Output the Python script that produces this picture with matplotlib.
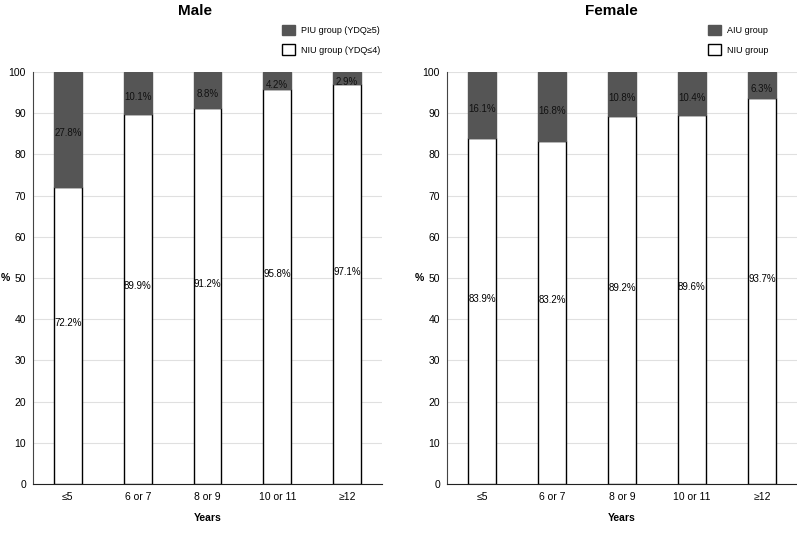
import matplotlib
matplotlib.use("Agg")
import matplotlib.pyplot as plt
from matplotlib.patches import Patch

plt.rcParams["font.family"] = ["Liberation Sans", "DejaVu Sans"]

categories = ["≤5", "6 or 7", "8 or 9", "10 or 11", "≥12"]
male_niu = [72.2, 89.9, 91.2, 95.8, 97.1]
male_piu = [27.8, 10.1, 8.8, 4.2, 2.9]
female_niu = [83.9, 83.2, 89.2, 89.6, 93.7]
female_aiu = [16.1, 16.8, 10.8, 10.4, 6.3]

DARK = "#555555"
W, H = 797, 550

fig = plt.figure(figsize=(W / 100, H / 100), dpi=100)
ax_m = fig.add_axes([33 / W, 1 - 484 / H, 349 / W, 412 / H])
ax_f = fig.add_axes([447 / W, 1 - 484 / H, 350 / W, 412 / H])


def draw_panel(ax, title, title_x, leg_x, low, high, high_label, low_label):
    x = range(len(categories))
    ax.bar(x, low, width=0.4, color="white", edgecolor="black", linewidth=1.0, zorder=3)
    ax.bar(x, high, bottom=low, width=0.4, color=DARK, edgecolor=DARK, linewidth=1.0, zorder=3)
    for i in x:
        # labels sit a little above the middle of the white part, a little below in the dark part
        ax.text(i, low[i] / 2 + 3, f"{low[i]:.1f}%", ha="center", va="center",
                fontsize=7, zorder=4)
        ax.text(i, low[i] + high[i] / 2 - 1, f"{high[i]:.1f}%", ha="center", va="center",
                fontsize=7, color="#111111", zorder=4)
    ax.set_xlim(-0.5, len(categories) - 0.5)
    ax.set_ylim(0, 100)
    ax.set_yticks(range(0, 101, 10))
    ax.set_xticks(list(x))
    ax.set_xticklabels(categories)
    ax.tick_params(axis="x", length=0, labelsize=7.5, pad=6)
    ax.tick_params(axis="y", length=0, labelsize=7.5, pad=5)
    ax.yaxis.grid(True, color="#e0e0e0", linewidth=0.8, zorder=0)
    ax.set_axisbelow(True)
    for s in ("top", "right"):
        ax.spines[s].set_visible(False)
    ax.spines["left"].set_color("#444444")
    ax.spines["bottom"].set_color("#222222")
    ax.set_xlabel("Years", fontsize=7.5, fontweight="bold", labelpad=8)
    ax.set_ylabel("%", fontsize=7.5, fontweight="bold", rotation=0, va="center", ha="center")
    ax.yaxis.set_label_coords(-0.08, 0.5)
    fig.text(title_x / W, 1 - 11 / H, title, fontsize=11, fontweight="bold",
             ha="center", va="center")
    handles = [Patch(facecolor=DARK, edgecolor=DARK, label=high_label),
               Patch(facecolor="white", edgecolor="black", label=low_label)]
    fig.legend(handles=handles, loc="upper left", bbox_to_anchor=(leg_x / W, 1 - 25 / H),
               frameon=False, fontsize=6.5, handlelength=1.4, handleheight=1.4,
               handletextpad=0.75, labelspacing=1.0, borderpad=0, borderaxespad=0)


draw_panel(ax_m, "Male", 195, 282, male_niu, male_piu,
           "PIU group (YDQ≥5)", "NIU group (YDQ≤4)")
draw_panel(ax_f, "Female", 611, 708, female_niu, female_aiu,
           "AIU group", "NIU group")

fig.savefig("out.png", dpi=100)
